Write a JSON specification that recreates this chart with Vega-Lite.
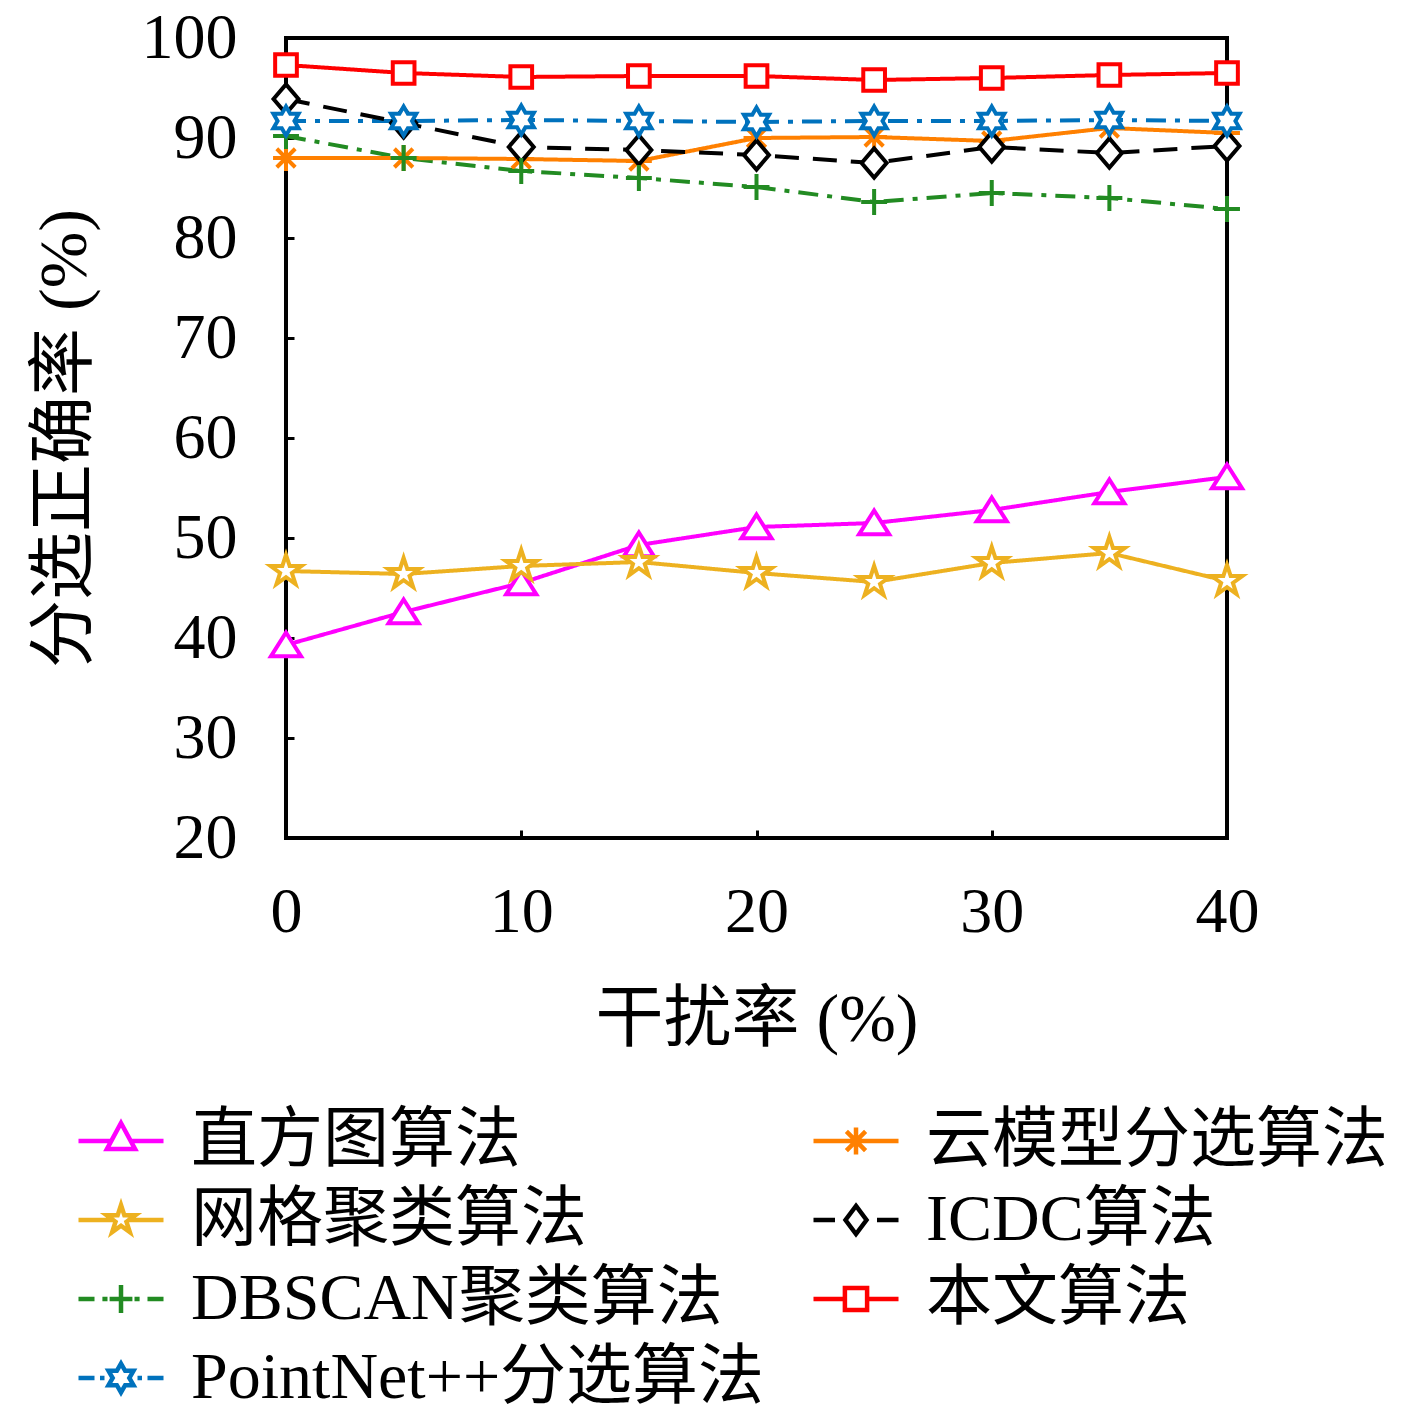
{
  "$schema": "https://vega.github.io/schema/vega-lite/v6.json",
  "width": 941,
  "height": 800,
  "autosize": {"type": "none"},
  "padding": {"left": 286, "top": 38, "right": 190, "bottom": 579},
  "config": {
    "view": {"stroke": "black", "strokeWidth": 4},
    "axis": {
      "domain": false,
      "grid": false,
      "labelFlush": false,
      "labelFont": "'Liberation Serif', 'Noto Sans CJK SC'",
      "labelFontSize": 64,
      "labelColor": "black",
      "tickColor": "black",
      "tickWidth": 3,
      "tickSize": -8,
      "titleFont": "'Liberation Serif', 'Noto Sans CJK SC'",
      "titleFontSize": 68,
      "titleFontWeight": "normal",
      "titleColor": "black"
    },
    "legend": {
      "labelFont": "'Liberation Serif', 'Noto Sans CJK SC'",
      "labelFontSize": 66,
      "labelColor": "black",
      "labelLimit": 1000,
      "symbolFillColor": "white",
      "symbolOpacity": 1,
      "symbolStrokeWidth": 4.5
    }
  },
  "data": {
    "values": [
      {"x": 0, "y": 39.3, "series": "直方图算法"},
      {"x": 5, "y": 42.6, "series": "直方图算法"},
      {"x": 10, "y": 45.5, "series": "直方图算法"},
      {"x": 15, "y": 49.3, "series": "直方图算法"},
      {"x": 20, "y": 51.1, "series": "直方图算法"},
      {"x": 25, "y": 51.5, "series": "直方图算法"},
      {"x": 30, "y": 52.8, "series": "直方图算法"},
      {"x": 35, "y": 54.6, "series": "直方图算法"},
      {"x": 40, "y": 56.1, "series": "直方图算法"},
      {"x": 0, "y": 46.7, "series": "网格聚类算法"},
      {"x": 5, "y": 46.4, "series": "网格聚类算法"},
      {"x": 10, "y": 47.2, "series": "网格聚类算法"},
      {"x": 15, "y": 47.6, "series": "网格聚类算法"},
      {"x": 20, "y": 46.5, "series": "网格聚类算法"},
      {"x": 25, "y": 45.6, "series": "网格聚类算法"},
      {"x": 30, "y": 47.5, "series": "网格聚类算法"},
      {"x": 35, "y": 48.5, "series": "网格聚类算法"},
      {"x": 40, "y": 45.7, "series": "网格聚类算法"},
      {"x": 0, "y": 90.2, "series": "DBSCAN聚类算法"},
      {"x": 5, "y": 88.0, "series": "DBSCAN聚类算法"},
      {"x": 10, "y": 86.7, "series": "DBSCAN聚类算法"},
      {"x": 15, "y": 86.0, "series": "DBSCAN聚类算法"},
      {"x": 20, "y": 85.1, "series": "DBSCAN聚类算法"},
      {"x": 25, "y": 83.6, "series": "DBSCAN聚类算法"},
      {"x": 30, "y": 84.5, "series": "DBSCAN聚类算法"},
      {"x": 35, "y": 84.0, "series": "DBSCAN聚类算法"},
      {"x": 40, "y": 82.9, "series": "DBSCAN聚类算法"},
      {"x": 0, "y": 91.7, "series": "PointNet++分选算法"},
      {"x": 5, "y": 91.7, "series": "PointNet++分选算法"},
      {"x": 10, "y": 91.8, "series": "PointNet++分选算法"},
      {"x": 15, "y": 91.7, "series": "PointNet++分选算法"},
      {"x": 20, "y": 91.6, "series": "PointNet++分选算法"},
      {"x": 25, "y": 91.7, "series": "PointNet++分选算法"},
      {"x": 30, "y": 91.7, "series": "PointNet++分选算法"},
      {"x": 35, "y": 91.8, "series": "PointNet++分选算法"},
      {"x": 40, "y": 91.7, "series": "PointNet++分选算法"},
      {"x": 0, "y": 88.0, "series": "云模型分选算法"},
      {"x": 5, "y": 88.0, "series": "云模型分选算法"},
      {"x": 10, "y": 87.9, "series": "云模型分选算法"},
      {"x": 15, "y": 87.7, "series": "云模型分选算法"},
      {"x": 20, "y": 90.0, "series": "云模型分选算法"},
      {"x": 25, "y": 90.1, "series": "云模型分选算法"},
      {"x": 30, "y": 89.7, "series": "云模型分选算法"},
      {"x": 35, "y": 91.0, "series": "云模型分选算法"},
      {"x": 40, "y": 90.5, "series": "云模型分选算法"},
      {"x": 0, "y": 93.9, "series": "ICDC算法"},
      {"x": 5, "y": 91.5, "series": "ICDC算法"},
      {"x": 10, "y": 89.1, "series": "ICDC算法"},
      {"x": 15, "y": 88.8, "series": "ICDC算法"},
      {"x": 20, "y": 88.3, "series": "ICDC算法"},
      {"x": 25, "y": 87.5, "series": "ICDC算法"},
      {"x": 30, "y": 89.1, "series": "ICDC算法"},
      {"x": 35, "y": 88.5, "series": "ICDC算法"},
      {"x": 40, "y": 89.2, "series": "ICDC算法"},
      {"x": 0, "y": 97.3, "series": "本文算法"},
      {"x": 5, "y": 96.5, "series": "本文算法"},
      {"x": 10, "y": 96.1, "series": "本文算法"},
      {"x": 15, "y": 96.2, "series": "本文算法"},
      {"x": 20, "y": 96.2, "series": "本文算法"},
      {"x": 25, "y": 95.8, "series": "本文算法"},
      {"x": 30, "y": 96.0, "series": "本文算法"},
      {"x": 35, "y": 96.3, "series": "本文算法"},
      {"x": 40, "y": 96.5, "series": "本文算法"}
    ]
  },
  "encoding": {
    "x": {"field": "x", "type": "quantitative", "scale": {"domain": [0, 40]},
      "axis": {"values": [0, 10, 20, 30, 40], "title": "干扰率 (%)", "labelPadding": 50, "titleX": 470.5, "titleY": 182, "titleBaseline": "middle"}},
    "y": {"field": "y", "type": "quantitative", "scale": {"domain": [20, 100]},
      "axis": {"values": [20, 30, 40, 50, 60, 70, 80, 90, 100], "title": "分选正确率 (%)", "labelPadding": 57, "titleX": -221, "titleY": 400, "titleAngle": -90, "titleAlign": "center", "titleBaseline": "middle"}}
  },
  "layer": [
    {
      "data": {"values": [{}]},
      "mark": {"type": "rule", "color": "black", "strokeWidth": 4},
      "encoding": {"x": null, "y": {"datum": 90, "type": "quantitative"}}
    },
    {
      "transform": [{"filter": {"field": "series", "oneOf": ["直方图算法", "网格聚类算法", "DBSCAN聚类算法", "PointNet++分选算法"]}}],
      "mark": {"type": "line", "strokeWidth": 4},
      "encoding": {
        "color": {"field": "series", "type": "nominal",
          "scale": {"domain": ["直方图算法", "网格聚类算法", "DBSCAN聚类算法", "PointNet++分选算法"], "range": ["#FF00FF", "#EDB120", "#228B22", "#0072BD"]},
          "legend": null},
        "strokeDash": {"field": "series", "type": "nominal",
          "scale": {"domain": ["直方图算法", "网格聚类算法", "DBSCAN聚类算法", "PointNet++分选算法"], "range": [[1, 0], [1, 0], [20, 9, 5, 9], [20, 9, 5, 9]]},
          "legend": null}
      }
    },
    {
      "transform": [{"filter": {"field": "series", "oneOf": ["云模型分选算法", "ICDC算法", "本文算法"]}}],
      "mark": {"type": "line", "strokeWidth": 4},
      "encoding": {
        "color": {"field": "series", "type": "nominal",
          "scale": {"domain": ["云模型分选算法", "ICDC算法", "本文算法"], "range": ["#FF8000", "#000000", "#FF0000"]},
          "legend": null},
        "strokeDash": {"field": "series", "type": "nominal",
          "scale": {"domain": ["云模型分选算法", "ICDC算法", "本文算法"], "range": [[1, 0], [24, 14], [1, 0]]},
          "legend": null}
      }
    },
    {
      "transform": [{"filter": {"field": "series", "oneOf": ["云模型分选算法", "ICDC算法", "本文算法"]}}],
      "mark": {"type": "point", "filled": false, "fill": "white", "strokeWidth": 4, "size": 1050, "opacity": 1},
      "encoding": {
        "color": {"field": "series", "type": "nominal",
          "scale": {"domain": ["云模型分选算法", "ICDC算法", "本文算法"], "range": ["#FF8000", "#000000", "#FF0000"]},
          "legend": null},
        "shape": {"field": "series", "type": "nominal",
          "scale": {"domain": ["云模型分选算法", "ICDC算法", "本文算法"],
            "range": ["M-0.8,0H0.8M0,-0.8V0.8M-0.57,-0.57L0.57,0.57M-0.57,0.57L0.57,-0.57", "M0,-0.9L0.77,0L0,0.9L-0.77,0Z", "M-0.67,-0.67H0.67V0.67H-0.67Z"]},
          "legend": null}
      }
    },
    {
      "transform": [{"filter": {"field": "series", "oneOf": ["直方图算法", "网格聚类算法", "DBSCAN聚类算法", "PointNet++分选算法"]}}],
      "mark": {"type": "point", "filled": false, "fill": "white", "strokeWidth": 4, "size": 1050, "opacity": 1},
      "encoding": {
        "color": {"field": "series", "type": "nominal",
          "scale": {"domain": ["直方图算法", "网格聚类算法", "DBSCAN聚类算法", "PointNet++分选算法"], "range": ["#FF00FF", "#EDB120", "#228B22", "#0072BD"]},
          "legend": null},
        "shape": {"field": "series", "type": "nominal",
          "scale": {"domain": ["直方图算法", "网格聚类算法", "DBSCAN聚类算法", "PointNet++分选算法"],
            "range": ["M0,-0.77L0.93,0.7H-0.93Z", "M0,-1L0.225,-0.309L0.951,-0.309L0.363,0.118L0.588,0.809L0,0.382L-0.588,0.809L-0.363,0.118L-0.951,-0.309L-0.225,-0.309Z", "M-0.8,0H0.8M0,-0.8V0.8", "M0,-0.9L0.26,-0.45L0.779,-0.45L0.52,0L0.779,0.45L0.26,0.45L0,0.9L-0.26,0.45L-0.779,0.45L-0.52,0L-0.779,-0.45L-0.26,-0.45Z"]},
          "legend": null}
      }
    },
    {
      "transform": [{"filter": {"field": "series", "oneOf": ["直方图算法", "网格聚类算法", "DBSCAN聚类算法", "PointNet++分选算法"]}}, {"filter": "datum.x < 0"}],
      "mark": {"type": "point", "filled": false},
      "encoding": {
        "color": {"field": "series", "type": "nominal",
          "scale": {"domain": ["直方图算法", "网格聚类算法", "DBSCAN聚类算法", "PointNet++分选算法"], "range": ["#FF00FF", "#EDB120", "#228B22", "#0072BD"]},
          "legend": {"title": null, "orient": "none", "legendX": -198, "legendY": 1070, "padding": 0,
            "symbolSize": 3600, "labelOffset": 37, "rowPadding": 13}},
        "shape": {"field": "series", "type": "nominal",
          "scale": {"domain": ["直方图算法", "网格聚类算法", "DBSCAN聚类算法", "PointNet++分选算法"],
            "range": ["M-1.417,0H-0.32M0.32,0H1.417M0,-0.6L0.47,0.27H-0.47Z", "M-1.417,0H-0.22M0.22,0H1.417M0,-0.5L0.112,-0.155L0.476,-0.155L0.182,0.059L0.294,0.405L0,0.191L-0.294,0.405L-0.182,0.059L-0.476,-0.155L-0.112,-0.155Z", "M-1.417,0H-0.883M-0.62,0H-0.45M-0.38,0H0.38M0,-0.47V0.47M0.45,0H0.62M0.883,0H1.417", "M-1.417,0H-0.883M-0.7,0H-0.55M0.55,0H0.7M0.883,0H1.417M0,-0.48L0.139,-0.24L0.416,-0.24L0.277,0L0.416,0.24L0.139,0.24L0,0.48L-0.139,0.24L-0.416,0.24L-0.277,0L-0.416,-0.24L-0.139,-0.24Z"]},
          "legend": {"title": null, "orient": "none", "legendX": -198, "legendY": 1070, "padding": 0,
            "symbolSize": 3600, "labelOffset": 37, "rowPadding": 13}}
      }
    },
    {
      "transform": [{"filter": {"field": "series", "oneOf": ["云模型分选算法", "ICDC算法", "本文算法"]}}, {"filter": "datum.x < 0"}],
      "mark": {"type": "point", "filled": false},
      "encoding": {
        "color": {"field": "series", "type": "nominal",
          "scale": {"domain": ["云模型分选算法", "ICDC算法", "本文算法"], "range": ["#FF8000", "#000000", "#FF0000"]},
          "legend": {"title": null, "orient": "none", "legendX": 537, "legendY": 1070, "padding": 0,
            "symbolSize": 3600, "labelOffset": 37, "rowPadding": 13}},
        "shape": {"field": "series", "type": "nominal",
          "scale": {"domain": ["云模型分选算法", "ICDC算法", "本文算法"],
            "range": ["M-1.417,0H1.417M0,-0.45V0.45M-0.32,-0.32L0.32,0.32M-0.32,0.32L0.32,-0.32", "M-1.417,0H-0.7M0.7,0H1.417M0,-0.47L0.35,0L0,0.47L-0.35,0Z", "M-1.417,0H-0.37M0.37,0H1.417M-0.37,-0.37H0.37V0.37H-0.37Z"]},
          "legend": {"title": null, "orient": "none", "legendX": 537, "legendY": 1070, "padding": 0,
            "symbolSize": 3600, "labelOffset": 37, "rowPadding": 13}}
      }
    }
  ],
  "resolve": {
    "scale": {"color": "independent", "shape": "independent", "strokeDash": "independent"},
    "legend": {"color": "independent", "shape": "independent"}
  }
}
